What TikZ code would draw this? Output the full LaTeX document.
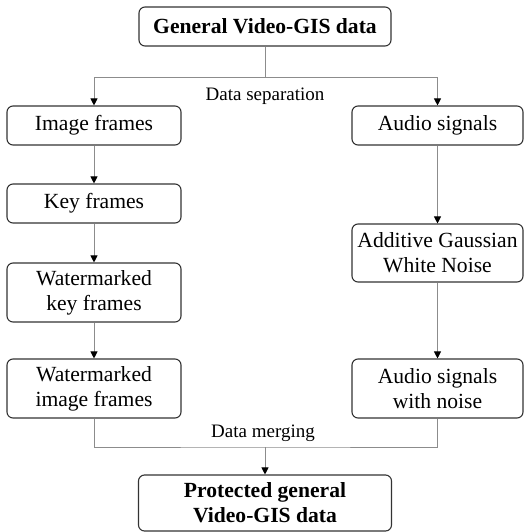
\documentclass[tikz,border=0pt]{standalone}
\usepackage{fontspec}
\setmainfont{Liberation Serif}
\usetikzlibrary{arrows.meta}
\begin{document}
\begin{tikzpicture}[x=1pt,y=-1pt,
  box/.style={draw=black!80,line width=1.1pt,rounded corners=6pt,align=center,inner sep=0pt,
    font=\fontsize{21.6}{25}\selectfont},
  lcol/.style={box,minimum width=174pt},
  rcol/.style={box,minimum width=171pt},
  conn/.style={draw=black!45,line width=0.9pt},
  arr/.style={conn,-{Triangle[length=7pt,width=7pt,black]}},
  lbl/.style={anchor=base,inner sep=0pt,font=\fontsize{19}{22}\selectfont}]
\useasboundingbox (0,0) rectangle (532,532);
\node[box,minimum width=252pt,minimum height=39pt] (top) at (265,26.5) {\textbf{General Video-GIS data}};
\node[lcol,minimum height=39pt] (img) at (94,125.5) {Image frames};
\node[rcol,minimum height=39pt] (aud) at (437.5,125.5) {Audio signals};
\node[lcol,minimum height=39pt] (key) at (94,203.5) {Key frames};
\node[lcol,minimum height=59pt] (wkf) at (94,292.5) {Watermarked\\key frames};
\node[rcol,minimum height=58pt] (agwn) at (437.5,253) {Additive Gaussian\\White Noise};
\node[lcol,minimum height=59pt] (wif) at (94,388.5) {Watermarked\\image frames};
\node[rcol,minimum height=59pt] (awn) at (437.5,388.5) {Audio signals\\with noise};
\node[box,minimum width=253pt,minimum height=56pt] (bot) at (265,503) {\textbf{Protected general}\\\textbf{Video-GIS data}};
\node[lbl] (sep) at (265,100) {Data separation};
\node[lbl] (mrg) at (263,437) {Data merging};
\coordinate (split) at (265,77);
\coordinate (merge) at (265,447);
\draw[conn] (top.south) -- (split);
\draw[arr] (split) -| (img.north);
\draw[arr] (split) -| (aud.north);
\draw[arr] (img) -- (key);
\draw[arr] (key) -- (wkf);
\draw[arr] (wkf) -- (wif);
\draw[arr] (aud) -- (agwn);
\draw[arr] (agwn) -- (awn);
\draw[conn] (wif.south) |- (merge) -| (awn.south);
\draw[arr] (merge) -- (bot.north);
\end{tikzpicture}
\end{document}
